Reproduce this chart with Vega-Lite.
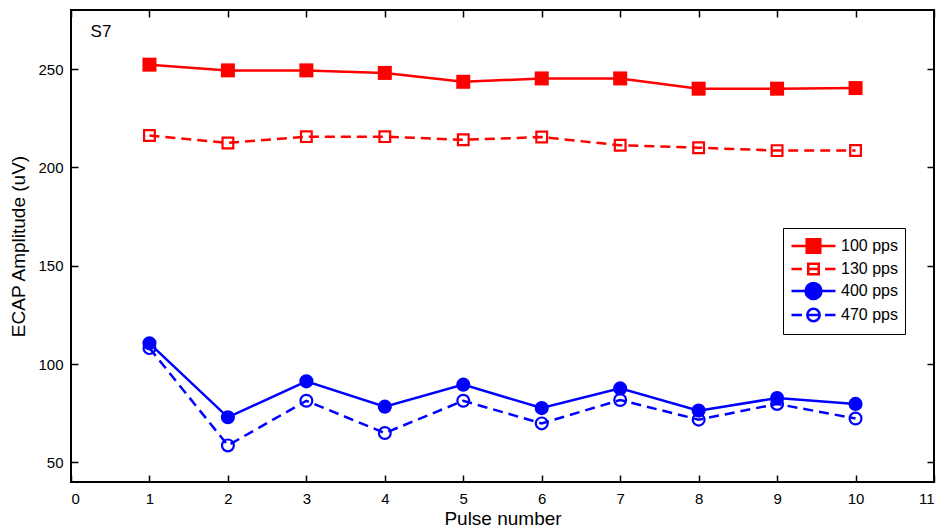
{
  "$schema": "https://vega.github.io/schema/vega-lite/v6.json",
  "width": 863,
  "height": 472,
  "autosize": {"type": "none"},
  "padding": {"left": 71, "top": 10, "right": 6, "bottom": 46},
  "config": {
    "view": {"stroke": "black", "strokeWidth": 2},
    "font": "Liberation Sans",
    "axis": {
      "domain": false,
      "grid": false,
      "ticks": true,
      "tickSize": -7,
      "tickColor": "black",
      "tickWidth": 1.5,
      "labelFontSize": 15,
      "labelColor": "black",
      "labelPadding": 15,
      "titleFontSize": 19,
      "titleFontWeight": "normal",
      "titleColor": "black"
    },
    "legend": {
      "orient": "none", "legendX": 712, "legendY": 218,
      "strokeColor": "black", "fillColor": "white", "padding": 7,
      "symbolSize": 361, "labelFontSize": 16, "labelColor": "black", "labelOffset": 29, "rowPadding": -2,
      "symbolStrokeWidth": 2.5
    }
  },
  "datasets": {
    "amps": [
      {"pulse": 1, "series": "100 pps", "amp": 252.2},
      {"pulse": 2, "series": "100 pps", "amp": 249.3},
      {"pulse": 3, "series": "100 pps", "amp": 249.3},
      {"pulse": 4, "series": "100 pps", "amp": 248.0},
      {"pulse": 5, "series": "100 pps", "amp": 243.5},
      {"pulse": 6, "series": "100 pps", "amp": 245.2},
      {"pulse": 7, "series": "100 pps", "amp": 245.2},
      {"pulse": 8, "series": "100 pps", "amp": 240.0},
      {"pulse": 9, "series": "100 pps", "amp": 240.0},
      {"pulse": 10, "series": "100 pps", "amp": 240.3},
      {"pulse": 1, "series": "130 pps", "amp": 216.2},
      {"pulse": 2, "series": "130 pps", "amp": 212.4},
      {"pulse": 3, "series": "130 pps", "amp": 215.6},
      {"pulse": 4, "series": "130 pps", "amp": 215.6},
      {"pulse": 5, "series": "130 pps", "amp": 214.0},
      {"pulse": 6, "series": "130 pps", "amp": 215.4},
      {"pulse": 7, "series": "130 pps", "amp": 211.2},
      {"pulse": 8, "series": "130 pps", "amp": 210.0},
      {"pulse": 9, "series": "130 pps", "amp": 208.5},
      {"pulse": 10, "series": "130 pps", "amp": 208.6},
      {"pulse": 1, "series": "400 pps", "amp": 110.5},
      {"pulse": 2, "series": "400 pps", "amp": 72.9},
      {"pulse": 3, "series": "400 pps", "amp": 91.2},
      {"pulse": 4, "series": "400 pps", "amp": 78.3},
      {"pulse": 5, "series": "400 pps", "amp": 89.5},
      {"pulse": 6, "series": "400 pps", "amp": 77.6},
      {"pulse": 7, "series": "400 pps", "amp": 87.6},
      {"pulse": 8, "series": "400 pps", "amp": 76.3},
      {"pulse": 9, "series": "400 pps", "amp": 82.7},
      {"pulse": 10, "series": "400 pps", "amp": 79.7},
      {"pulse": 1, "series": "470 pps", "amp": 108.1},
      {"pulse": 2, "series": "470 pps", "amp": 58.6},
      {"pulse": 3, "series": "470 pps", "amp": 81.3},
      {"pulse": 4, "series": "470 pps", "amp": 64.9},
      {"pulse": 5, "series": "470 pps", "amp": 81.3},
      {"pulse": 6, "series": "470 pps", "amp": 69.8},
      {"pulse": 7, "series": "470 pps", "amp": 81.7},
      {"pulse": 8, "series": "470 pps", "amp": 71.7},
      {"pulse": 9, "series": "470 pps", "amp": 79.7},
      {"pulse": 10, "series": "470 pps", "amp": 72.3}
    ],
    "label": [{"pulse": 0.25, "amp": 269, "text": "S7"}]
  },
  "resolve": {"axis": {"x": "independent", "y": "independent"}},
  "layer": [
    {
      "data": {"name": "amps"},
      "transform": [{"filter": "datum.series === '100 pps'"}],
      "mark": {"type": "line", "strokeWidth": 2.5, "color": "#ff0000"},
      "encoding": {
        "x": {"field": "pulse", "type": "quantitative", "scale": {"domain": [0, 11], "nice": false, "zero": false},
              "axis": {"title": "Pulse number", "values": [0,1,2,3,4,5,6,7,8,9,10,11], "labelPadding": 16, "titlePadding": 3}},
        "y": {"field": "amp", "type": "quantitative", "scale": {"domain": [40, 280], "nice": false, "zero": false},
              "axis": {"title": "ECAP Amplitude (uV)", "values": [50, 100, 150, 200, 250], "titlePadding": 9}}
      }
    },
    {
      "data": {"name": "amps"},
      "transform": [{"filter": "datum.series === '130 pps'"}],
      "mark": {"type": "line", "strokeWidth": 2.5, "color": "#ff0000", "strokeDash": [10, 6]},
      "encoding": {
        "x": {"field": "pulse", "type": "quantitative", "axis": null},
        "y": {"field": "amp", "type": "quantitative", "axis": null}
      }
    },
    {
      "data": {"name": "amps"},
      "transform": [{"filter": "datum.series === '400 pps'"}],
      "mark": {"type": "line", "strokeWidth": 2.5, "color": "#0000ff"},
      "encoding": {
        "x": {"field": "pulse", "type": "quantitative", "axis": null},
        "y": {"field": "amp", "type": "quantitative", "axis": null}
      }
    },
    {
      "data": {"name": "amps"},
      "transform": [{"filter": "datum.series === '470 pps'"}],
      "mark": {"type": "line", "strokeWidth": 2.5, "color": "#0000ff", "strokeDash": [10, 6]},
      "encoding": {
        "x": {"field": "pulse", "type": "quantitative", "axis": null},
        "y": {"field": "amp", "type": "quantitative", "axis": null}
      }
    },
    {
      "data": {"name": "amps"},
      "transform": [{"filter": "datum.series === '100 pps'"}],
      "mark": {"type": "point", "shape": "square", "filled": true, "color": "#ff0000", "size": 196, "opacity": 1},
      "encoding": {
        "x": {"field": "pulse", "type": "quantitative", "axis": null},
        "y": {"field": "amp", "type": "quantitative", "axis": null}
      }
    },
    {
      "data": {"name": "amps"},
      "transform": [{"filter": "datum.series === '130 pps'"}],
      "mark": {"type": "point", "shape": "square", "filled": false, "color": "#ff0000", "size": 115, "strokeWidth": 2.2, "opacity": 1},
      "encoding": {
        "x": {"field": "pulse", "type": "quantitative", "axis": null},
        "y": {"field": "amp", "type": "quantitative", "axis": null}
      }
    },
    {
      "data": {"name": "amps"},
      "transform": [{"filter": "datum.series === '400 pps'"}],
      "mark": {"type": "point", "shape": "circle", "filled": true, "color": "#0000ff", "size": 200, "opacity": 1},
      "encoding": {
        "x": {"field": "pulse", "type": "quantitative", "axis": null},
        "y": {"field": "amp", "type": "quantitative", "axis": null}
      }
    },
    {
      "data": {"name": "amps"},
      "transform": [{"filter": "datum.series === '470 pps'"}],
      "mark": {"type": "point", "shape": "circle", "filled": false, "color": "#0000ff", "size": 140, "strokeWidth": 2.2, "opacity": 1},
      "encoding": {
        "x": {"field": "pulse", "type": "quantitative", "axis": null},
        "y": {"field": "amp", "type": "quantitative", "axis": null}
      }
    },
    {
      "data": {"name": "amps"},
      "transform": [{"filter": "datum.pulse < 0"}],
      "mark": {"type": "point", "strokeWidth": 2.5, "opacity": 1},
      "encoding": {
        "x": {"field": "pulse", "type": "quantitative", "axis": null},
        "y": {"field": "amp", "type": "quantitative", "axis": null},
        "shape": {"field": "series", "type": "nominal",
          "scale": {"domain": ["100 pps", "130 pps", "400 pps", "470 pps"],
                    "range": ["M-1,0H3.63M0.6,-0.7H2.03V0.7H0.6Z",
                              "M-1,0H0.1M0.76,-0.555H1.87V0.555H0.76ZM0.76,0H1.87M2.53,0H3.63",
                              "M-1,0H3.63M2.155,0A0.84,0.84 0 1,1 0.475,0A0.84,0.84 0 1,1 2.155,0Z",
                              "M-1,0H0.1M1.965,0A0.65,0.65 0 1,1 0.665,0A0.65,0.65 0 1,1 1.965,0ZM0.665,0H1.965M2.53,0H3.63"]},
          "legend": {"title": null}},
        "stroke": {"field": "series", "type": "nominal",
          "scale": {"domain": ["100 pps", "130 pps", "400 pps", "470 pps"], "range": ["#ff0000", "#ff0000", "#0000ff", "#0000ff"]},
          "legend": {"title": null}},
        "fill": {"field": "series", "type": "nominal",
          "scale": {"domain": ["100 pps", "130 pps", "400 pps", "470 pps"], "range": ["#ff0000", "transparent", "#0000ff", "transparent"]},
          "legend": {"title": null}}
      }
    },
    {
      "data": {"name": "label"},
      "mark": {"type": "text", "align": "left", "baseline": "middle", "fontSize": 17, "color": "black"},
      "encoding": {
        "x": {"field": "pulse", "type": "quantitative",
              "axis": {"orient": "top", "labels": false, "title": null, "values": [0,1,2,3,4,5,6,7,8,9,10,11]}},
        "y": {"field": "amp", "type": "quantitative",
              "axis": {"orient": "right", "labels": false, "title": null, "values": [50, 100, 150, 200, 250]}},
        "text": {"field": "text"}
      }
    }
  ]
}
